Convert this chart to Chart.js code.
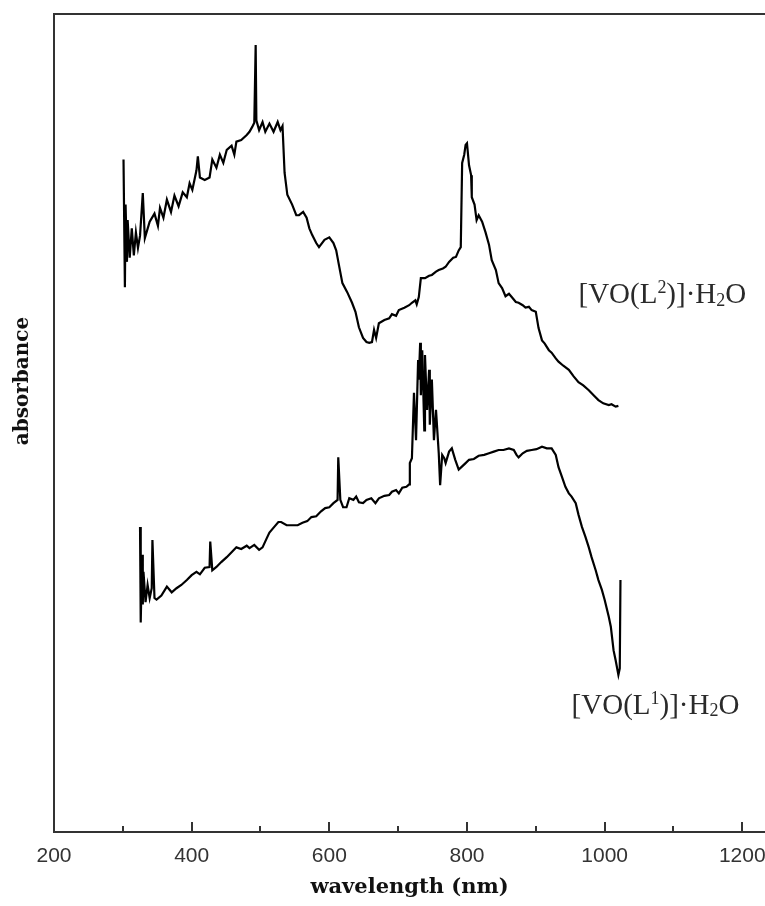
<!DOCTYPE html>
<html>
<head>
<meta charset="utf-8">
<title>absorbance spectra</title>
<script src="https://cdn.jsdelivr.net/npm/chart.js@4.4.1/dist/chart.umd.min.js"></script>
<style>
    html, body { margin: 0; padding: 0; background: #fff; overflow: hidden; }
    #wrap { width: 765px; height: 906px; }
</style>
</head>
<body>
<div id="wrap"><canvas id="graph" width="765" height="906"></canvas></div>
<script>
// ========================== Data ==========================
const l2Wavelength = [301,303,304,306,307,310,313,316,319,322,325,329,332,339,346,351,354,359,364,370,375,381,387,393,397,401,407,409,412,419,426,430,436,441,446,451,458,462,465,472,480,484,488,491,493,494,498,503,507,513,519,525,529,532,535,539,546,552,556,562,567,571,575,581,585,593,600,606,610,614,619,626,633,638,643,649,654,658,662,665,668,672,680,687,691,697,701,709,716,720,725,727,730,733,739,745,749,755,759,765,769,774,780,784,788,791,793,796,798,800,803,806,807,811,814,817,822,827,832,836,842,846,851,856,861,865,871,875,881,885,890,894,900,904,909,913,919,923,929,933,940,948,955,962,969,977,984,991,998,1006,1010,1016,1020];
const l2Absorbance = [0.822,0.666,0.767,0.697,0.748,0.702,0.738,0.705,0.733,0.714,0.729,0.781,0.726,0.746,0.756,0.741,0.763,0.751,0.773,0.758,0.778,0.765,0.782,0.776,0.793,0.785,0.809,0.826,0.800,0.797,0.800,0.822,0.812,0.828,0.818,0.834,0.839,0.828,0.844,0.846,0.852,0.856,0.862,0.867,0.962,0.870,0.858,0.868,0.856,0.866,0.856,0.868,0.858,0.863,0.806,0.779,0.767,0.754,0.754,0.758,0.751,0.738,0.730,0.720,0.715,0.724,0.727,0.720,0.711,0.693,0.671,0.660,0.647,0.636,0.617,0.604,0.599,0.598,0.599,0.614,0.604,0.622,0.626,0.628,0.633,0.631,0.638,0.641,0.644,0.647,0.650,0.645,0.654,0.677,0.677,0.680,0.681,0.685,0.687,0.689,0.691,0.697,0.702,0.703,0.711,0.715,0.818,0.828,0.840,0.842,0.815,0.803,0.776,0.767,0.748,0.754,0.746,0.733,0.718,0.699,0.687,0.671,0.665,0.655,0.658,0.654,0.648,0.647,0.644,0.641,0.642,0.638,0.636,0.616,0.601,0.597,0.589,0.586,0.579,0.575,0.570,0.565,0.557,0.550,0.546,0.540,0.534,0.528,0.524,0.522,0.523,0.520,0.521];

const l1Wavelength = [325,326,328,329,330,333,336,339,342,343,346,349,356,364,371,378,385,393,400,407,412,419,426,427,430,436,443,451,458,465,472,480,484,491,498,503,509,513,520,526,530,538,546,554,561,568,574,581,588,594,600,606,612,613,616,620,625,629,635,639,643,649,654,661,667,672,680,687,691,697,701,706,712,716,717,720,723,726,729,730,732,733,735,738,739,742,745,746,749,752,755,759,761,764,767,769,774,778,783,788,793,798,803,810,817,825,832,839,846,853,861,868,872,875,881,887,894,901,909,916,923,929,933,938,943,948,952,958,962,967,972,977,981,987,991,996,1000,1006,1009,1013,1016,1020,1022,1023];
const l1Absorbance = [0.373,0.256,0.339,0.278,0.318,0.281,0.302,0.286,0.298,0.357,0.286,0.284,0.289,0.300,0.293,0.298,0.302,0.308,0.314,0.318,0.315,0.323,0.324,0.355,0.320,0.324,0.330,0.336,0.342,0.348,0.346,0.350,0.347,0.351,0.345,0.348,0.359,0.366,0.373,0.379,0.379,0.375,0.375,0.375,0.378,0.380,0.385,0.386,0.392,0.396,0.397,0.402,0.406,0.458,0.406,0.397,0.397,0.408,0.406,0.410,0.403,0.402,0.406,0.408,0.402,0.408,0.411,0.412,0.416,0.418,0.414,0.421,0.422,0.425,0.451,0.457,0.537,0.479,0.577,0.553,0.598,0.534,0.589,0.491,0.583,0.516,0.565,0.498,0.553,0.479,0.516,0.463,0.424,0.461,0.457,0.451,0.465,0.469,0.455,0.443,0.447,0.451,0.455,0.456,0.460,0.461,0.463,0.465,0.467,0.467,0.469,0.467,0.461,0.458,0.463,0.466,0.467,0.468,0.471,0.469,0.469,0.461,0.446,0.434,0.422,0.414,0.410,0.402,0.388,0.373,0.361,0.348,0.336,0.320,0.308,0.296,0.284,0.263,0.251,0.222,0.210,0.192,0.200,0.308];

const majorTicks = [200, 400, 600, 800, 1000, 1200];
const minorTicks = [300, 500, 700, 900, 1100];

// curve labels: text pieces (0 normal, 1 superscript, -1 subscript) + anchor in data units
const curveLabels = [
    { x: 962, y: 0.658, parts: [["[VO(L", 0], ["2", 1], [")]·H", 0], ["2", -1], ["O", 0]] },
    { x: 952, y: 0.156, parts: [["[VO(L", 0], ["1", 1], [")]·H", 0], ["2", -1], ["O", 0]] }
];

const pts = (xs, ys) => xs.map((x, i) => ({ x: x, y: ys[i] }));

// ========================== Frame, inner ticks and text ==========================
const decorations = {
    id: "decorations",
    afterDraw(chart) {
        const ctx = chart.ctx;
        const area = chart.chartArea;
        const xs = chart.scales.x;
        const ys = chart.scales.y;

        // frame: left, top, bottom (right side is cut off by the page)
        ctx.save();
        ctx.strokeStyle = "#333";
        ctx.lineWidth = 2;
        ctx.beginPath();
        ctx.moveTo(chart.width, area.top);
        ctx.lineTo(area.left, area.top);
        ctx.lineTo(area.left, area.bottom);
        ctx.lineTo(chart.width, area.bottom);
        ctx.stroke();

        // ticks point up into the plot
        ctx.beginPath();
        majorTicks.forEach(v => {
            const px = Math.round(xs.getPixelForValue(v));
            ctx.moveTo(px, area.bottom);
            ctx.lineTo(px, area.bottom - 10);
        });
        minorTicks.forEach(v => {
            const px = Math.round(xs.getPixelForValue(v));
            ctx.moveTo(px, area.bottom);
            ctx.lineTo(px, area.bottom - 6);
        });
        ctx.stroke();

        // y title
        ctx.translate(area.left - 31, area.top + 367);
        ctx.rotate(-Math.PI / 2);
        ctx.fillStyle = "#111";
        ctx.font = "bold 20px 'DejaVu Serif'";
        ctx.textAlign = "center";
        ctx.textBaseline = "middle";
        ctx.fillText("absorbance", 0, 0);
        ctx.restore();

        // curve labels
        ctx.save();
        ctx.fillStyle = "#2a2a2a";
        ctx.textBaseline = "alphabetic";
        ctx.textAlign = "left";
        const size = 29;
        curveLabels.forEach(lbl => {
            let px = xs.getPixelForValue(lbl.x);
            const base = ys.getPixelForValue(lbl.y) + size * 0.33;
            lbl.parts.forEach(([txt, mode]) => {
                const s = mode === 0 ? size : size * 0.62;
                ctx.font = s + "px 'Liberation Serif'";
                const dy = mode === 1 ? -size * 0.36 : (mode === -1 ? size * 0.08 : 0);
                ctx.fillText(txt, px, base + dy);
                px += ctx.measureText(txt).width;
            });
        });
        ctx.restore();
    }
};

// ========================== Chart ==========================
const chart = new Chart(document.getElementById("graph").getContext("2d"), {
    type: "line",
    data: {
        datasets: [
            { label: "[VO(L2)]·H2O", data: pts(l2Wavelength, l2Absorbance), borderColor: "#000", borderWidth: 2.2, pointRadius: 0, tension: 0, fill: false },
            { label: "[VO(L1)]·H2O", data: pts(l1Wavelength, l1Absorbance), borderColor: "#000", borderWidth: 2.2, pointRadius: 0, tension: 0, fill: false }
        ]
    },
    options: {
        responsive: false,
        animation: false,
        devicePixelRatio: 1,
        layout: { padding: { top: 14, right: 0, left: 0, bottom: 0 } },
        plugins: { legend: { display: false }, tooltip: { enabled: false } },
        scales: {
            x: {
                type: "linear",
                min: 200,
                max: 1233,
                grid: { display: false, drawTicks: false },
                border: { display: false },
                afterBuildTicks: (scale) => {
                    scale.ticks = majorTicks.map(v => ({ value: v }));
                },
                afterFit: (scale) => {
                    scale.height = 74;
                    scale.paddingLeft = 0;
                    scale.paddingRight = 0;
                },
                ticks: {
                    autoSkip: false,
                    maxRotation: 0,
                    padding: 12,
                    color: "#333",
                    font: { family: "'Liberation Sans'", size: 21 },
                    callback: (value) => String(value)
                },
                title: {
                    display: true,
                    text: "wavelength (nm)",
                    color: "#111",
                    font: { family: "'DejaVu Serif'", size: 21, weight: "bold" },
                    padding: { top: 0, bottom: 6 }
                }
            },
            y: {
                min: 0,
                max: 1,
                grid: { display: false, drawTicks: false },
                border: { display: false },
                ticks: { display: false },
                afterFit: (scale) => { scale.width = 54; }
            }
        }
    },
    plugins: [decorations]
});
</script>
</body>
</html>
